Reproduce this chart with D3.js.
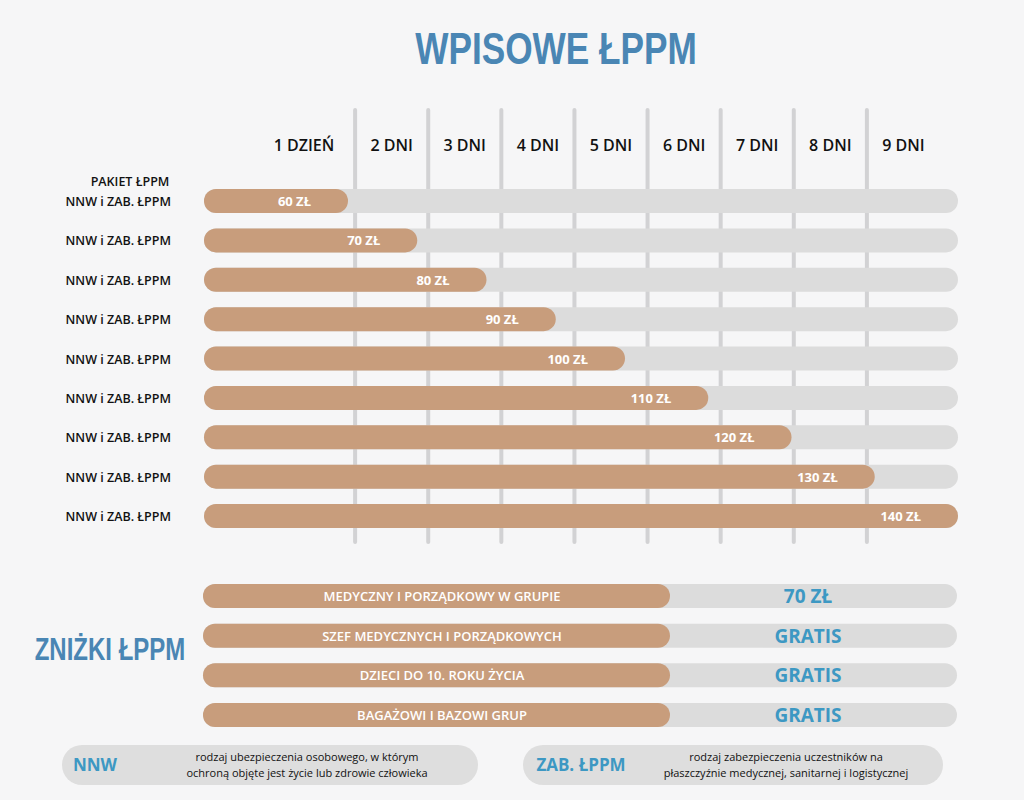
<!DOCTYPE html>
<html><head><meta charset="utf-8">
<script src="https://cdn.jsdelivr.net/npm/d3@7"></script>
<style>body{margin:0;background:#f6f6f7}svg{display:block}</style>
</head><body><svg id="c" width="1024" height="800"></svg>
<script>
const days = ["1 DZIEŃ", "2 DNI", "3 DNI", "4 DNI", "5 DNI", "6 DNI", "7 DNI", "8 DNI", "9 DNI"];
const rowLabels = ["NNW i ZAB. ŁPPM", "NNW i ZAB. ŁPPM", "NNW i ZAB. ŁPPM", "NNW i ZAB. ŁPPM", "NNW i ZAB. ŁPPM", "NNW i ZAB. ŁPPM", "NNW i ZAB. ŁPPM", "NNW i ZAB. ŁPPM", "NNW i ZAB. ŁPPM"];
const prices = [60, 70, 80, 90, 100, 110, 120, 130, 140];
const discounts = ["MEDYCZNY I PORZĄDKOWY W GRUPIE", "SZEF MEDYCZNYCH I PORZĄDKOWYCH", "DZIECI DO 10. ROKU ŻYCIA", "BAGAŻOWI I BAZOWI GRUP"];
const discountValues = ["70 ZŁ", "GRATIS", "GRATIS", "GRATIS"];

const brown = "#c89d7c", track = "#dcdcdc", blue = "#4a86b4", blue2 = "#3d98c3";
const svg = d3.select("#c");
const font = "Open Sans, sans-serif";

svg.append("rect").attr("width", 1024).attr("height", 800).attr("fill", "#f6f6f7");

// narrow handwritten-like titles, squeezed horizontally
svg.append("text").attr("transform", "translate(556,64) scale(0.8,1)").attr("text-anchor", "middle")
  .attr("font-family", "Liberation Sans, sans-serif").attr("font-weight", "bold")
  .attr("font-size", 44).attr("fill", blue).text("WPISOWE ŁPPM");

// columns
const xSep = d3.scaleBand().domain(days).range([282, 940]);
svg.selectAll(".sep").data(days.slice(1)).enter().append("line")
  .attr("x1", d => xSep(d)).attr("x2", d => xSep(d)).attr("y1", 110).attr("y2", 542)
  .attr("stroke", "#d2d2d4").attr("stroke-width", 4).attr("stroke-linecap", "round");
svg.selectAll(".day").data(days).enter().append("text")
  .attr("x", (d, i) => i === 0 ? 304 : xSep(d) + xSep.bandwidth() / 2)
  .attr("y", 151).attr("text-anchor", "middle").attr("font-family", font)
  .attr("font-weight", 600).attr("font-size", 16).attr("fill", "#111").text(d => d);

// price bars
const y = d3.scalePoint().domain(d3.range(prices.length)).range([201, 516]);
const x = d3.scaleLinear().domain([60, 100, 140]).range([348, 625, 958]);
const x0 = 204, h = 24;
svg.selectAll(".trk").data(prices).enter().append("rect")
  .attr("x", x0).attr("y", (d, i) => y(i) - h / 2).attr("width", x(140) - x0).attr("height", h)
  .attr("rx", h / 2).attr("fill", track);
svg.selectAll(".bar").data(prices).enter().append("rect")
  .attr("x", x0).attr("y", (d, i) => y(i) - h / 2).attr("width", d => x(d) - x0).attr("height", h)
  .attr("rx", h / 2).attr("fill", brown);
svg.selectAll(".val").data(prices).enter().append("text")
  .attr("x", d => x(d) - 37).attr("y", (d, i) => y(i) + 5).attr("text-anchor", "end")
  .attr("font-family", font).attr("font-weight", "bold").attr("font-size", 13)
  .attr("fill", "#fff").text(d => d + " ZŁ");
svg.selectAll(".lab").data(rowLabels).enter().append("text")
  .attr("x", 171).attr("y", (d, i) => y(i) + 5).attr("text-anchor", "end")
  .attr("font-family", font).attr("font-weight", 600).attr("font-size", 12.5)
  .attr("fill", "#111").text(d => d);
svg.append("text").attr("x", 130).attr("y", 186).attr("text-anchor", "middle")
  .attr("font-family", font).attr("font-weight", 600).attr("font-size", 12.5).attr("fill", "#111").text("PAKIET ŁPPM");

// discounts
const yd = d3.scalePoint().domain(d3.range(discounts.length)).range([596, 715]);
const hd = 24;
svg.selectAll(".dtrk").data(discounts).enter().append("rect")
  .attr("x", 203).attr("y", (d, i) => yd(i) - hd / 2).attr("width", 754).attr("height", hd)
  .attr("rx", hd / 2).attr("fill", track);
svg.selectAll(".dbar").data(discounts).enter().append("rect")
  .attr("x", 203).attr("y", (d, i) => yd(i) - hd / 2).attr("width", 467).attr("height", hd)
  .attr("rx", hd / 2).attr("fill", brown);
svg.selectAll(".dlab").data(discounts).enter().append("text")
  .attr("x", 442).attr("y", (d, i) => yd(i) + 5).attr("text-anchor", "middle")
  .attr("font-family", font).attr("font-weight", 600).attr("font-size", 13)
  .attr("fill", "#fff").text(d => d);
svg.selectAll(".dval").data(discountValues).enter().append("text")
  .attr("x", 808).attr("y", (d, i) => yd(i) + 7).attr("text-anchor", "middle")
  .attr("font-family", font).attr("font-weight", "bold").attr("font-size", 19)
  .attr("fill", blue2).text(d => d);
svg.append("text").attr("transform", "translate(110,660) scale(0.75,1)").attr("text-anchor", "middle")
  .attr("font-family", "Liberation Sans, sans-serif").attr("font-weight", "bold")
  .attr("font-size", 32).attr("fill", blue).text("ZNIŻKI ŁPPM");

// legend
const legend = [
  {k: "NNW", x: 62, w: 416, kx: 95, tx: 307, t: ["rodzaj ubezpieczenia osobowego, w którym", "ochroną objęte jest życie lub zdrowie człowieka"]},
  {k: "ZAB. ŁPPM", x: 523, w: 420, kx: 581, tx: 786, t: ["rodzaj zabezpieczenia uczestników na", "płaszczyźnie medycznej, sanitarnej i logistycznej"]}
];
const lg = svg.selectAll(".lg").data(legend).enter().append("g");
lg.append("rect").attr("x", d => d.x).attr("y", 745).attr("width", d => d.w).attr("height", 40)
  .attr("rx", 20).attr("fill", "#dedede");
lg.append("text").attr("x", d => d.kx).attr("y", 771).attr("text-anchor", "middle")
  .attr("font-family", font).attr("font-weight", "bold").attr("font-size", 17)
  .attr("fill", blue2).text(d => d.k);
lg.each(function(d) {
  d3.select(this).selectAll(".lt").data(d.t).enter().append("text")
    .attr("x", d.tx).attr("y", (t, i) => 761 + i * 16).attr("text-anchor", "middle")
    .attr("font-family", font).attr("font-size", 11).attr("fill", "#111").text(t => t);
});
</script></body></html>
